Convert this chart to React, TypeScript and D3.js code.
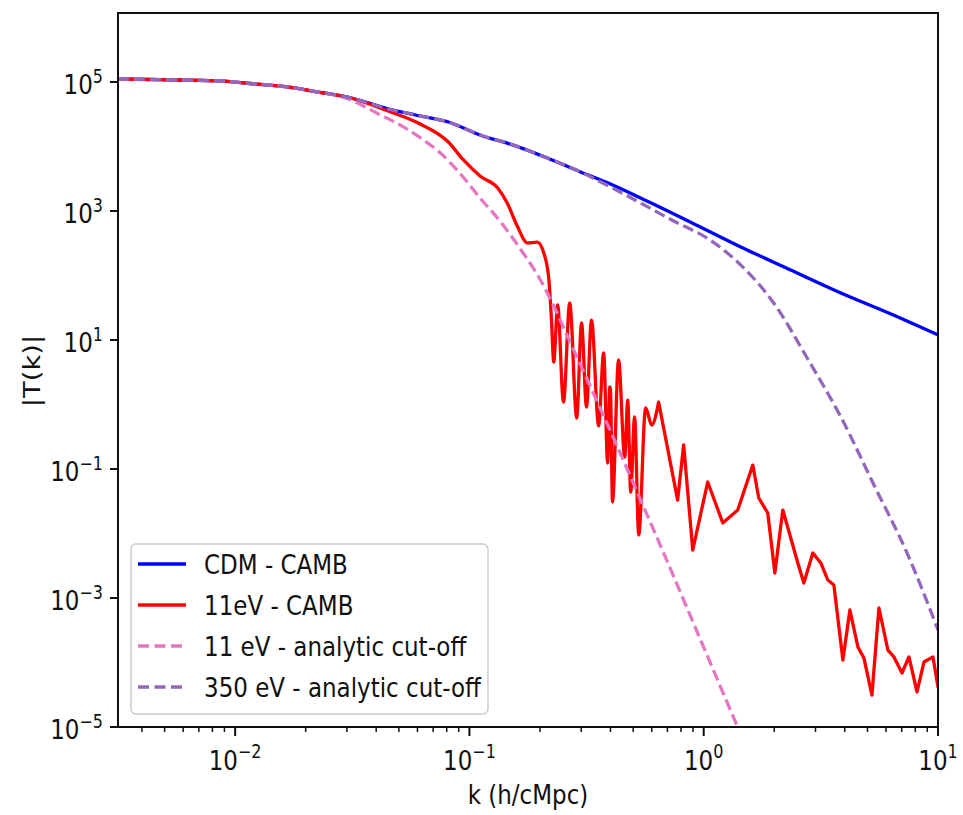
import React from 'react';
import * as d3 from 'd3';

// ---- data (k in h/cMpc, |T(k)|) ----
const cdmK = [0.00316, 0.00478, 0.00846, 0.0116, 0.0164, 0.0226, 0.0313, 0.0437, 0.0588, 0.0813, 0.111, 0.154, 0.215, 0.298, 0.400, 0.538, 0.880, 1.44, 2.35, 3.85, 6.30, 10];
const cdmT = [1.11e5, 1.09e5, 1.04e5, 9.48e4, 8.46e4, 7.0e4, 5.65e4, 3.95e4, 3.08e4, 2.40e4, 1.51e4, 1.05e4, 6.63e3, 4.03e3, 2.62e3, 1.59e3, 670, 277, 122, 53.6, 25.3, 12.0];

const camb11K = [0.00316, 0.00478, 0.00846, 0.0116, 0.0164, 0.0226, 0.0313, 0.0437, 0.0605, 0.0813, 0.0943, 0.111, 0.132, 0.145, 0.160, 0.177, 0.195, 0.207, 0.218, 0.224,
  0.229, 0.238, 0.252, 0.268, 0.287, 0.301, 0.316, 0.332, 0.356, 0.374, 0.389, 0.397, 0.400, 0.408, 0.433, 0.460, 0.474, 0.488, 0.507, 0.528, 0.565, 0.600, 0.642,
  0.774, 0.821, 0.898, 1.040, 1.206, 1.397, 1.620, 1.718, 1.877, 2.012, 2.176, 2.522, 2.675, 2.923, 3.162, 3.388, 3.594, 3.927, 4.207, 4.551, 4.829, 5.224, 5.596,
  6.113, 6.486, 7.019, 7.517, 8.135, 8.713, 9.519, 10];
const camb11T = [1.11e5, 1.09e5, 1.04e5, 9.48e4, 8.46e4, 7.0e4, 5.65e4, 3.68e4, 2.31e4, 1.175e4, 6.18e3, 3.49e3, 2.27e3, 1.33e3, 585, 319, 330, 231, 91.5, 20.4,
  4.56, 34.9, 1.09, 37.5, 0.618, 18.4, 0.914, 20.4, 0.465, 6.29, 0.124, 1.87, 1.68, 0.0308, 4.90, 0.153, 1.17, 0.0440, 0.640, 0.00948, 0.883, 0.481, 1.09,
  0.0330, 0.236, 0.00555, 0.0628, 0.0146, 0.0231, 0.115, 0.0355, 0.0208, 0.00244, 0.0231, 0.00349, 0.00171, 0.00499, 0.00349, 0.00190, 0.00159, 1.09e-4, 6.52e-4, 1.74e-4, 1.17e-4, 3.13e-5, 7.0e-4,
  1.56e-4, 1.22e-4, 6.87e-5, 1.22e-4, 3.49e-5, 1.02e-4, 1.22e-4, 4.17e-5];

const cut11K = [0.00316, 0.00478, 0.00846, 0.0116, 0.0164, 0.0226, 0.0267, 0.0313, 0.0360, 0.0417, 0.0507, 0.0618, 0.0752, 0.0916, 0.111, 0.136, 0.165, 0.201, 0.229, 0.270, 0.319, 0.374, 0.442, 0.522, 0.655, 0.970, 1.51];
const cut11T = [1.11e5, 1.09e5, 1.04e5, 9.48e4, 8.46e4, 7.0e4, 6.28e4, 5.26e4, 4.09e4, 3.08e4, 2.15e4, 1.36e4, 7.93e3, 3.75e3, 1.59e3, 675, 258, 85.1, 33.6, 8.98, 2.40, 0.664, 0.171, 0.0425, 0.0064, 2.23e-4, 5.1e-6];

const cut350K = [0.00316, 0.00478, 0.00846, 0.0116, 0.0164, 0.0226, 0.0313, 0.0437, 0.0588, 0.0813, 0.111, 0.154, 0.215, 0.298, 0.400, 0.538, 0.744, 1.04, 1.25, 1.44, 1.99, 2.78, 3.85, 5.33, 7.44, 10];
const cut350T = [1.11e5, 1.09e5, 1.04e5, 9.48e4, 8.46e4, 7.0e4, 5.65e4, 3.95e4, 3.08e4, 2.40e4, 1.51e4, 1.05e4, 6.63e3, 4.03e3, 2.36e3, 1.33e3, 700, 375, 230, 145, 37.5, 5.07, 0.640, 0.0565, 0.00465, 3.19e-4];

const xTickExps = [-2, -1, 0, 1];
const yTickExps = [5, 3, 1, -1, -3, -5];
const legendLabels = ['CDM - CAMB', '11eV - CAMB', '11 eV - analytic cut-off', '350 eV - analytic cut-off'];
const seriesColors = ['#0000ff', '#ff0000', '#e377c2', '#9467bd'];

const FONT = 'DejaVu Sans, Verdana, sans-serif';
const SY = 1.19;

function expText(e: number) {
  return e < 0 ? '\u2212' + String(-e) : String(e);
}

export default function App() {
  const W = 963, H = 815;
  const L = 118, R = 938, T = 13, B = 727;
  const x = d3.scaleLog().domain([Math.pow(10, -2.5), 10]).range([L, R]);
  const y = d3.scaleLog().domain([1e-5, Math.pow(10, 6.07)]).range([B, T]);

  const zip = (ks: number[], ts: number[]) => ks.map((k, i) => [k, ts[i]] as [number, number]);
  const smooth = d3.line<[number, number]>().x(d => x(d[0])).y(d => y(d[1])).curve(d3.curveMonotoneX);
  const lin = d3.line<[number, number]>().x(d => x(d[0])).y(d => y(d[1]));

  const cdm = zip(cdmK, cdmT);
  const red = zip(camb11K, camb11T);
  const splitIdx = red.findIndex(d => d[0] >= 0.642);
  const redPath = (smooth(red.slice(0, splitIdx + 1)) || '') + (lin(red.slice(splitIdx)) || '');
  const pink = zip(cut11K, cut11T);
  const purple = zip(cut350K, cut350T);

  const minor: number[] = [];
  for (let e = -3; e <= 0; e++) {
    for (let m = 2; m <= 9; m++) {
      const v = m * Math.pow(10, e);
      if (v > x.domain()[0] && v < 10) minor.push(v);
    }
  }

  const legendRows = [564, 605, 646, 687];
  const LW = 3.3;

  return (
    <svg width={W} height={H} style={{ position: 'absolute', left: 0, top: 0, background: '#fff' }} fontFamily={FONT}>
      <defs>
        <clipPath id="plotclip">
          <rect x={L} y={T} width={R - L} height={B - T} />
        </clipPath>
      </defs>
      <rect x={0} y={0} width={W} height={H} fill="#fff" />
      <g clipPath="url(#plotclip)" fill="none" strokeLinejoin="round">
        <path d={smooth(cdm) || ''} stroke={seriesColors[0]} strokeWidth={LW} />
        <path d={redPath} stroke={seriesColors[1]} strokeWidth={LW} strokeLinecap="round" />
        <path d={smooth(pink) || ''} stroke={seriesColors[2]} strokeWidth={LW} strokeDasharray="11,5" />
        <path d={smooth(purple) || ''} stroke={seriesColors[3]} strokeWidth={LW} strokeDasharray="11,5" />
      </g>
      {/* frame */}
      <rect x={L} y={T} width={R - L} height={B - T} fill="none" stroke="#111" strokeWidth={2} />
      {/* x ticks */}
      {minor.map((v, i) => (
        <line key={'mx' + i} x1={x(v)} x2={x(v)} y1={B} y2={B + 5} stroke="#111" strokeWidth={1.5} />
      ))}
      {xTickExps.map(e => (
        <g key={'x' + e}>
          <line x1={x(Math.pow(10, e))} x2={x(Math.pow(10, e))} y1={B} y2={B + 9} stroke="#111" strokeWidth={2} />
          <text transform={`translate(${x(Math.pow(10, e))},770) scale(1,${SY})`} textAnchor="middle" fontSize={23} fill="#111">
            <tspan>10</tspan>
            <tspan dy={-10} fontSize={16}>{expText(e)}</tspan>
          </text>
        </g>
      ))}
      {/* y ticks */}
      {yTickExps.map(e => (
        <g key={'y' + e}>
          <line x1={L - 8} x2={L} y1={y(Math.pow(10, e))} y2={y(Math.pow(10, e))} stroke="#111" strokeWidth={2} />
          <text transform={`translate(103,${y(Math.pow(10, e)) + 12}) scale(1,${SY})`} textAnchor="end" fontSize={23} fill="#111">
            <tspan>10</tspan>
            <tspan dy={-9} fontSize={16}>{expText(e)}</tspan>
          </text>
        </g>
      ))}
      {/* axis labels */}
      <text transform={`translate(${(L + R) / 2},804) scale(1,${SY})`} textAnchor="middle" fontSize={23} fill="#111">k (h/cMpc)</text>
      <text transform={`translate(40,371) rotate(-90) scale(${SY},1)`} textAnchor="middle" fontSize={23} fill="#111">|T(k)|</text>
      {/* legend */}
      <rect x={131} y={544} width={357} height={170} rx={5} fill="#fff" fillOpacity={0.8} stroke="#cccccc" strokeWidth={1.5} />
      {legendLabels.map((lab, i) => (
        <g key={'lg' + i}>
          <line x1={138} x2={186} y1={legendRows[i]} y2={legendRows[i]} stroke={seriesColors[i]} strokeWidth={LW}
            strokeDasharray={i >= 2 ? '11,5.5' : undefined} />
          <text transform={`translate(204,${legendRows[i] + 10}) scale(1,${SY})`} fontSize={23} fill="#111">{lab}</text>
        </g>
      ))}
    </svg>
  );
}
